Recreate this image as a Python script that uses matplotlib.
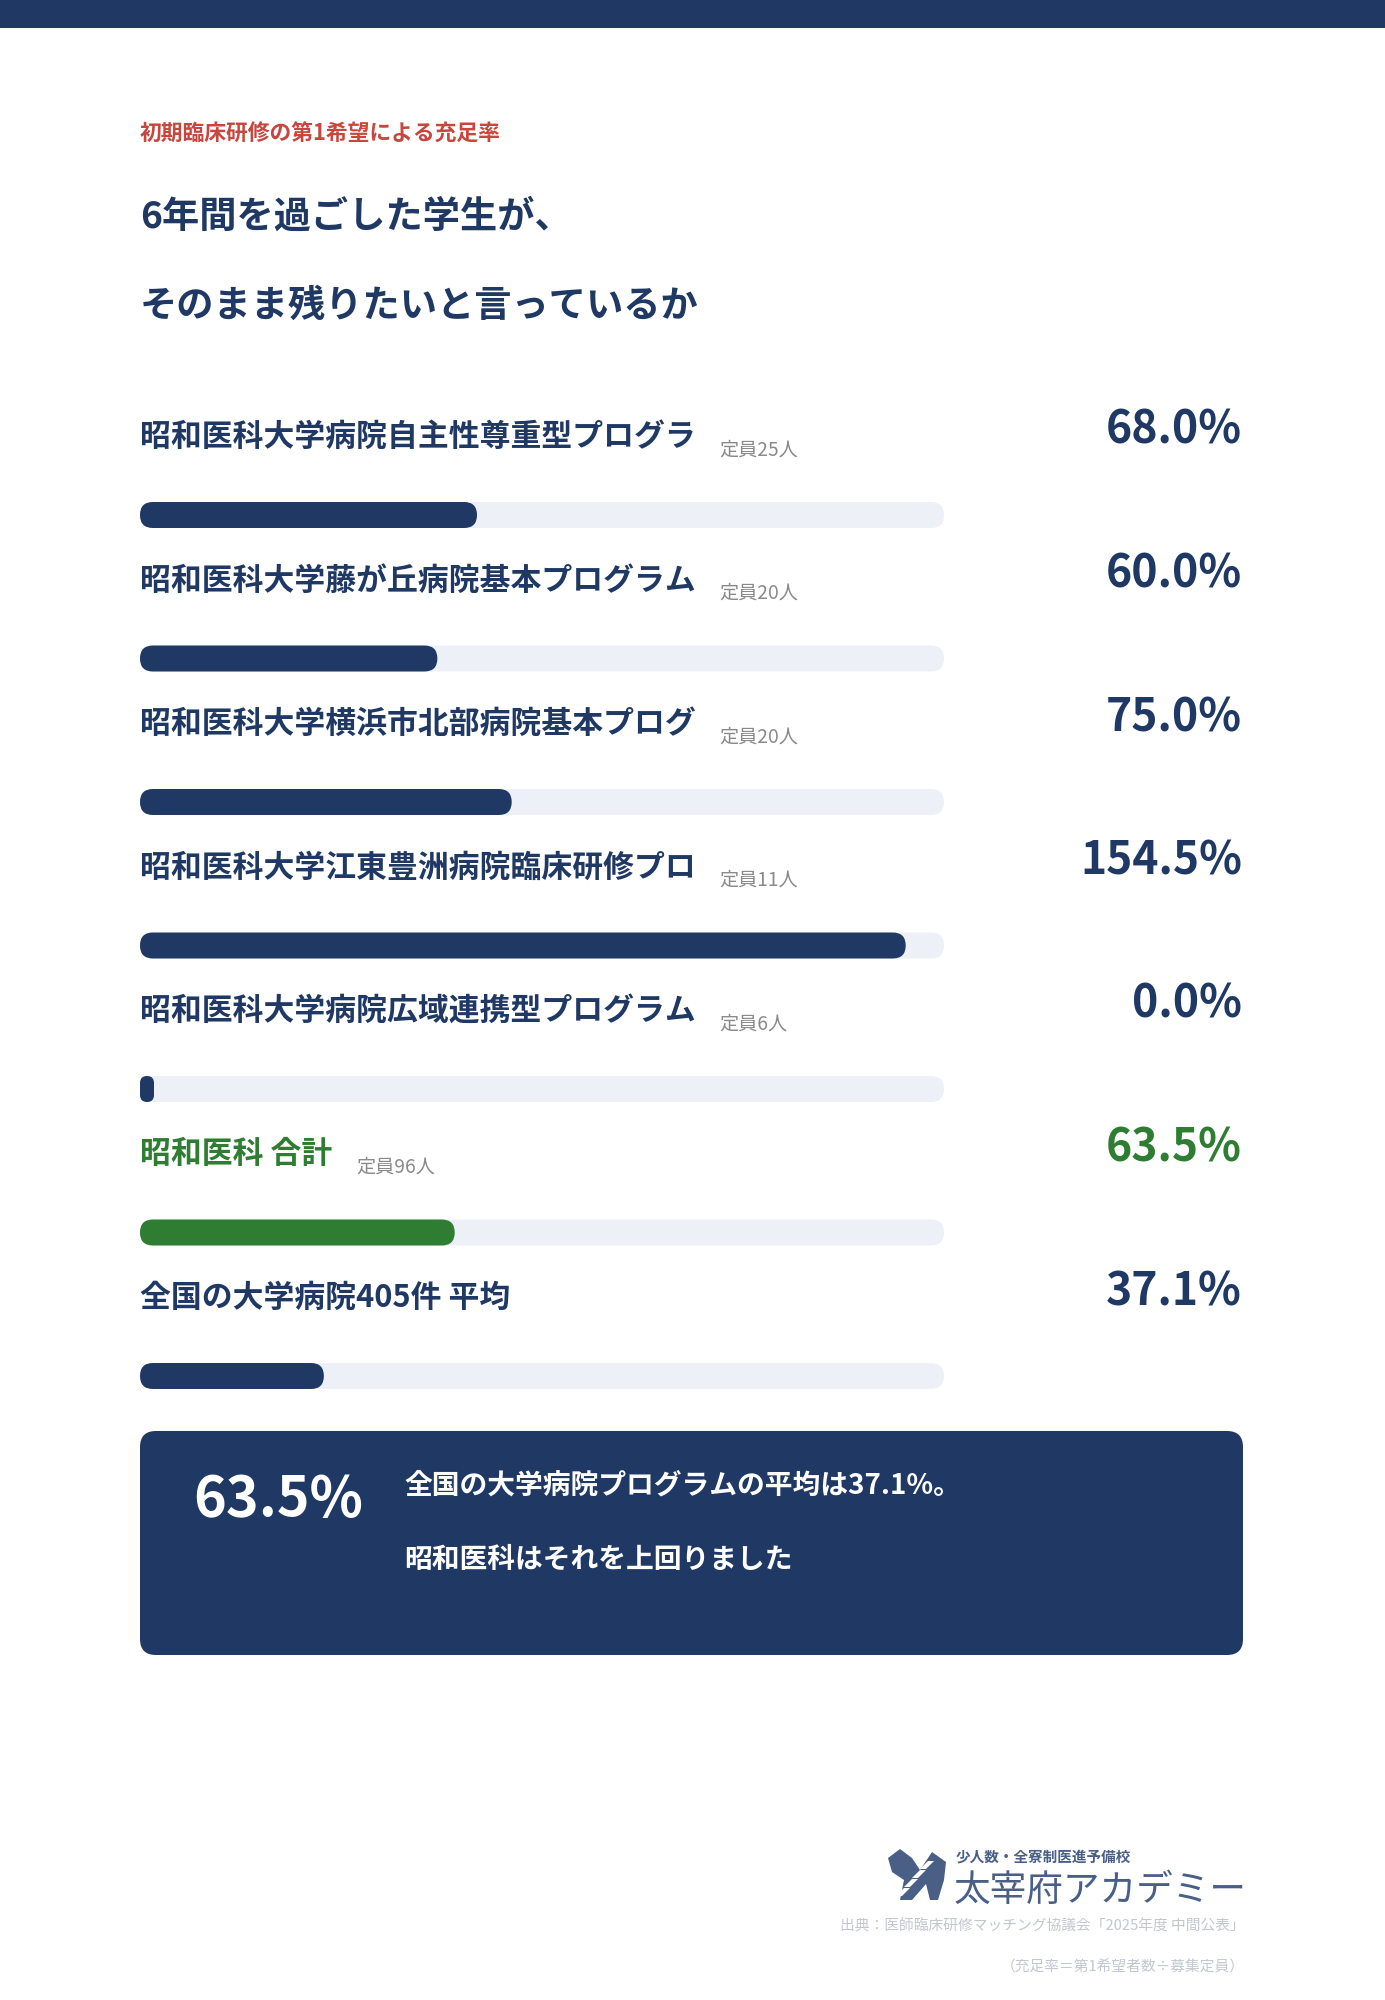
import numpy as np
import matplotlib
matplotlib.use("Agg")
import matplotlib.pyplot as plt
from matplotlib.patches import FancyBboxPatch, Rectangle, Polygon

plt.rcParams['font.family'] = ['Noto Sans CJK JP', 'DejaVu Sans']

# data
programs = ['昭和医科大学病院自主性尊重型プログラ',
            '昭和医科大学藤が丘病院基本プログラム',
            '昭和医科大学横浜市北部病院基本プログ',
            '昭和医科大学江東豊洲病院臨床研修プロ',
            '昭和医科大学病院広域連携型プログラム',
            '昭和医科 合計',
            '全国の大学病院405件 平均']
capacity = [25, 20, 20, 11, 6, 96, None]
rates = [68.0, 60.0, 75.0, 154.5, 0.0, 63.5, 37.1]
total_idx = 5

NAVY = '#1f3864'
GREEN = '#2e7d32'
TRACK = '#edf0f7'
RED = '#c8463d'

W, H = 1385, 2000
fig = plt.figure(figsize=(W / 100, H / 100), dpi=100)
ax = fig.add_axes([0, 0, 1, 1])
ax.set_xlim(0, W)
ax.set_ylim(H, 0)
ax.axis('off')

# top band
ax.add_patch(Rectangle((0, 0), W, 28, color=NAVY, lw=0))

ax.text(140, 134, '初期臨床研修の第1希望による充足率', color=RED, fontsize=15.7,
        fontweight='bold', va='center')
ax.text(140, 217, '6年間を過ごした学生が、', color=NAVY, fontsize=26.8,
        fontweight='bold', va='center')
ax.text(140, 306, 'そのまま残りたいと言っているか', color=NAVY, fontsize=26.8,
        fontweight='bold', va='center')

# bar rows
x0, track_w, bar_h = 140, 804, 26
vmax = max(rates) * 1.05
row_gap = 143.5
label_y0, bar_y0, value_y0 = 437, 515, 431
value_x = 1242

fig.canvas.draw()
renderer = fig.canvas.get_renderer()

for i, (name, cap, r) in enumerate(zip(programs, capacity, rates)):
    col = GREEN if i == total_idx else NAVY
    ly = label_y0 + i * row_gap
    by = bar_y0 + i * row_gap
    vy = value_y0 + i * row_gap

    t = ax.text(x0, ly, name, color=col, fontsize=22.2, fontweight='bold',
                va='center')
    if cap is not None:
        bb = t.get_window_extent(renderer)
        ax.text(bb.x1 + 24, ly + 13, f'定員{cap}人', color='#8a8a8a',
                fontsize=13.8, va='center')
    ax.text(value_x, vy, f'{r:.1f}%', color=col, fontsize=32,
            fontweight='bold', va='center', ha='right')

    # track
    ax.add_patch(FancyBboxPatch((x0, by - bar_h / 2), track_w, bar_h,
                                boxstyle=f'round,pad=0,rounding_size={bar_h / 2}',
                                fc=TRACK, ec='none'))
    # fill
    fw = max(track_w * r / vmax, 14)
    rs = min(bar_h / 2, fw / 2)
    ax.add_patch(FancyBboxPatch((x0, by - bar_h / 2), fw, bar_h,
                                boxstyle=f'round,pad=0,rounding_size={rs}',
                                fc=col, ec='none'))

# callout box
ax.add_patch(FancyBboxPatch((140, 1431), 1103, 224,
                            boxstyle='round,pad=0,rounding_size=16',
                            fc=NAVY, ec='none'))
ax.text(193, 1500, f'{rates[total_idx]:.1f}%', color='white', fontsize=40,
        fontweight='bold', va='center')
ax.text(404, 1486, f'全国の大学病院プログラムの平均は{rates[-1]:.1f}%。',
        color='white', fontsize=20, fontweight='bold', va='center')
ax.text(404, 1560, '昭和医科はそれを上回りました', color='white', fontsize=20,
        fontweight='bold', va='center')

# logo
LOGO = '#4a5f86'
ax.add_patch(Polygon([(888, 1858), (900, 1849), (912, 1858), (920, 1870),
                      (932, 1852), (946, 1862), (944, 1880), (938, 1900),
                      (930, 1900), (926, 1884), (912, 1900), (900, 1900),
                      (904, 1880), (892, 1872)], closed=True, fc=LOGO, ec='none'))
for k in range(4):
    ax.add_patch(Polygon([(896 + 8 * k, 1896 - 9 * k), (902 + 8 * k, 1896 - 9 * k),
                          (910 + 8 * k, 1888 - 9 * k), (904 + 8 * k, 1888 - 9 * k)],
                         closed=True, fc='white', ec='none'))
ax.text(956, 1857, '少人数・全寮制医進予備校', color=LOGO, fontsize=10.5,
        fontweight='bold', va='center')
ax.text(954, 1890, '太宰府アカデミー', color=LOGO, fontsize=26.4, va='center')

ax.text(1245, 1926, '出典：医師臨床研修マッチング協議会「2025年度 中間公表」',
        color='#c3c7cf', fontsize=10.6, va='center', ha='right')
ax.text(1245, 1967, '（充足率＝第1希望者数÷募集定員）', color='#c3c7cf',
        fontsize=10.6, va='center', ha='right')

fig.savefig('out.png', dpi=100, facecolor='white')
